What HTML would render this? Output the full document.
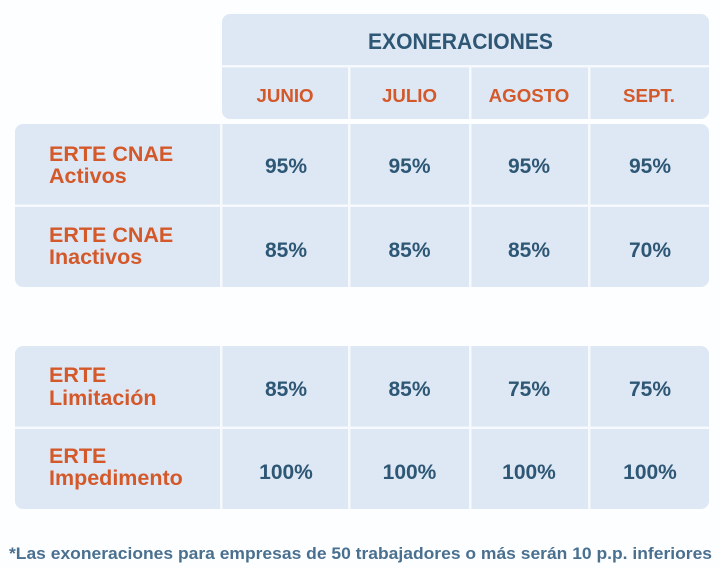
<!DOCTYPE html>
<html><head><meta charset="utf-8"><style>
html,body{margin:0;padding:0;background:#fff;}
svg{display:block;}
text{font-family:"Liberation Sans",Arial,sans-serif;font-weight:bold;}
.o{fill:#d4592a;}
.b{fill:#2d5775;}
</style></head><body>
<svg width="720" height="568" viewBox="0 0 720 568" xmlns="http://www.w3.org/2000/svg">
<rect width="720" height="568" fill="#fdfeff"/>
<!-- header block -->
<rect x="222" y="14" width="487" height="105" rx="8" fill="#dee8f4"/>
<rect x="222" y="65" width="487" height="2.5" fill="#f6f9fd"/>
<rect x="348" y="67" width="2.5" height="52" fill="#f6f9fd"/>
<rect x="469" y="67" width="2.5" height="52" fill="#f6f9fd"/>
<rect x="588" y="67" width="2.5" height="52" fill="#f6f9fd"/>
<!-- block 1 -->
<rect x="15" y="124" width="694" height="163" rx="8" fill="#dee8f4"/>
<rect x="15" y="204.5" width="694" height="2.5" fill="#f6f9fd"/>
<rect x="220" y="124" width="2.5" height="163" fill="#f6f9fd"/>
<rect x="348" y="124" width="2.5" height="163" fill="#f6f9fd"/>
<rect x="469" y="124" width="2.5" height="163" fill="#f6f9fd"/>
<rect x="588" y="124" width="2.5" height="163" fill="#f6f9fd"/>
<!-- block 2 -->
<rect x="15" y="346" width="694" height="163" rx="8" fill="#dee8f4"/>
<rect x="15" y="426.5" width="694" height="2.5" fill="#f6f9fd"/>
<rect x="220" y="346" width="2.5" height="163" fill="#f6f9fd"/>
<rect x="348" y="346" width="2.5" height="163" fill="#f6f9fd"/>
<rect x="469" y="346" width="2.5" height="163" fill="#f6f9fd"/>
<rect x="588" y="346" width="2.5" height="163" fill="#f6f9fd"/>

<text x="368" y="49" font-size="22" class="b" textLength="185" lengthAdjust="spacingAndGlyphs">EXONERACIONES</text>

<g font-size="18.7" class="o" text-anchor="middle">
<text x="285" y="102">JUNIO</text>
<text x="409.5" y="102">JULIO</text>
<text x="529" y="102">AGOSTO</text>
<text x="649" y="102">SEPT.</text>
</g>

<g font-size="21.5" class="o">
<text x="49" y="161">ERTE CNAE</text>
<text x="49" y="183">Activos</text>
<text x="49" y="242">ERTE CNAE</text>
<text x="49" y="264">Inactivos</text>
<text x="49" y="382">ERTE</text>
<text x="49" y="405">Limitación</text>
<text x="49" y="463">ERTE</text>
<text x="49" y="485">Impedimento</text>
</g>

<g font-size="21" class="b" text-anchor="middle">
<text x="286" y="173">95%</text>
<text x="409.5" y="173">95%</text>
<text x="529" y="173">95%</text>
<text x="650" y="173">95%</text>
<text x="286" y="257">85%</text>
<text x="409.5" y="257">85%</text>
<text x="529" y="257">85%</text>
<text x="650" y="257">70%</text>
<text x="286" y="396">85%</text>
<text x="409.5" y="396">85%</text>
<text x="529" y="396">75%</text>
<text x="650" y="396">75%</text>
<text x="286" y="479">100%</text>
<text x="409.5" y="479">100%</text>
<text x="529" y="479">100%</text>
<text x="650" y="479">100%</text>
</g>

<text x="9" y="559" font-size="16.5" fill="#4a7090" textLength="703" lengthAdjust="spacingAndGlyphs">*Las exoneraciones para empresas de 50 trabajadores o más serán 10 p.p. inferiores</text>
</svg>
</body></html>
